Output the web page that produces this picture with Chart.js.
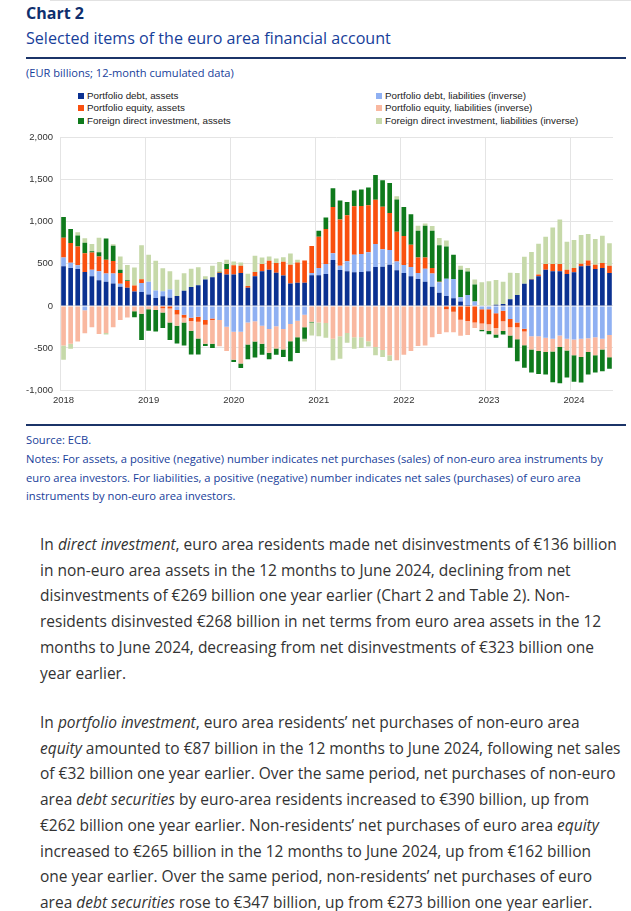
<!DOCTYPE html>
<html>
<head>
<meta charset="utf-8">
<script src="https://cdn.jsdelivr.net/npm/chart.js@4.4.0/dist/chart.umd.min.js"></script>
<style>
body { margin: 0; width: 631px; height: 911px; overflow: hidden; background: #fff; font-family: "Open Sans", sans-serif; position: relative; }
.abs { position: absolute; white-space: nowrap; }
#topline { position: absolute; left: 50px; top: 0; width: 581px; height: 1px; background: #e2e2e2; }
#h1 { left: 26px; top: 2px; font-weight: 700; font-size: 16px; color: #0f2f6e; }
#h2 { left: 26px; top: 27px; font-size: 16.1px; color: #17409a; }
.rule { position: absolute; left: 26px; width: 600px; height: 1.5px; background: #1b3468; }
#unit { left: 26px; top: 65px; font-size: 11.1px; color: #17409a; }
#legend { position: absolute; left: 78px; top: 90px; width: 500px; font-family: "Liberation Sans", Arial, sans-serif; font-size: 9.8px; color: #222; }
#legend .item { position: absolute; white-space: nowrap; }
#legend .sw { display: inline-block; width: 6px; height: 6px; margin-right: 3px; vertical-align: 0px; }
#chartBox { position: absolute; left: 0; top: 125px; }
#notes { left: 26px; top: 431px; font-size: 11.2px; line-height: 18.8px; color: #17409a; }
.para { left: 40px; font-size: 15.5px; line-height: 25.7px; color: #333; }
</style>
</head>
<body>
<div id="topline"></div>
<div class="abs" id="h1">Chart 2</div>
<div class="abs" id="h2">Selected items of the euro area financial account</div>
<div class="rule" style="top:57px"></div>
<div class="abs" id="unit">(EUR billions; 12-month cumulated data)</div>
<div id="legend"></div>
<div id="chartBox"><canvas id="myChart" width="631" height="285"></canvas></div>
<div class="rule" style="top:424px"></div>
<div class="abs" id="notes">Source: ECB.<br>Notes: For assets, a positive (negative) number indicates net purchases (sales) of non-euro area instruments by<br>euro area investors. For liabilities, a positive (negative) number indicates net sales (purchases) of euro area<br>instruments by non-euro area investors.</div>
<div class="abs para" style="top:532px">In <i>direct investment</i>, euro area residents made net disinvestments of €136 billion<br>in non-euro area assets in the 12 months to June 2024, declining from net<br>disinvestments of €269 billion one year earlier (Chart 2 and Table 2). Non-<br>residents disinvested €268 billion in net terms from euro area assets in the 12<br>months to June 2024, decreasing from net disinvestments of €323 billion one<br>year earlier.</div>
<div class="abs para" style="top:710px">In <i>portfolio investment</i>, euro area residents’ net purchases of non-euro area<br><i>equity</i> amounted to €87 billion in the 12 months to June 2024, following net sales<br>of €32 billion one year earlier. Over the same period, net purchases of non-euro<br>area <i>debt securities</i> by euro-area residents increased to €390 billion, up from<br>€262 billion one year earlier. Non-residents’ net purchases of euro area <i>equity</i><br>increased to €265 billion in the 12 months to June 2024, up from €162 billion<br>one year earlier. Over the same period, non-residents’ net purchases of euro<br>area <i>debt securities</i> rose to €347 billion, up from €273 billion one year earlier.</div>

<script>
// Jan 2018 - Jun 2024, one bar per month
const yearTicks = ['2018', '2019', '2020', '2021', '2022', '2023', '2024'];
const months = [];
for (let y = 0; y < yearTicks.length; y++) {
    for (let m = 1; m <= 12; m++) {
        if (y === 6 && m > 6) break;
        months.push(yearTicks[y] + '-' + String(m).padStart(2, '0'));
    }
}

const seriesNames = [
    'Portfolio debt, assets',
    'Portfolio debt, liabilities (inverse)',
    'Portfolio equity, assets',
    'Portfolio equity, liabilities (inverse)',
    'Foreign direct investment, assets',
    'Foreign direct investment, liabilities (inverse)'
];
const seriesColors = ['#0b3191', '#8fb0f2', '#f9500f', '#f9b8a0', '#0f7a1c', '#c6d9a9'];

const debtAssets = [
    470, 451, 439, 404, 353, 306, 286, 267, 227, 216, 172, 165,
    137, 94, 114, 98, 118, 180, 225, 245, 314, 341, 392, 372,
    372, 392, 216, 353, 412, 431, 394, 361, 267, 274, 274, 365,
    365, 380, 545, 427, 412, 400, 404, 412, 463, 466, 490, 423,
    392, 353, 321, 286, 227, 157, 118, 90, 51, 10, 5, 0,
    0, 15, 24, 80, 131, 262, 314, 353, 431, 412, 412, 380,
    400, 470, 478, 439, 451, 390
];
const debtLiab = [
    106, 63, 43, -51, 78, 106, 98, 118, 35, 0, 0, 106,
    150, 90, 59, 98, -49, -106, -141, -128, -169, -149, -169, -247,
    -306, -306, -196, -184, -235, -274, -241, -274, -216, -176, -106, 27,
    86, 118, 82, 51, 118, 208, 212, 227, 274, 208, 176, 106,
    94, 110, 71, 157, 157, 125, 204, 231, 51, 120, 47, -39,
    -39, -88, -59, -157, -196, -273, -361, -361, -380, -392, -353, -392,
    -400, -392, -384, -372, -392, -347
];
const equityAssets = [
    235, 235, 223, 223, 204, 176, 165, 149, 129, 80, 72, 47,
    0, -10, -27, -31, -53, -35, -39, -59, -55, -20, 5, 67,
    110, 86, 20, 51, 86, 106, 115, 165, 223, 243, 267, 321,
    372, 416, 549, 549, 549, 576, 572, 557, 525, 506, 439, 353,
    345, 263, 184, 133, 67, 5, -39, -71, -165, -180, -198, -170,
    -180, -176, -125, -98, -59, -32, 5, 20, 67, 86, 86, 51,
    51, 31, 63, 51, 59, 87
];
const equityLiab = [
    -470, -451, -423, -274, -255, -333, -321, -255, -169, -137, -63, -94,
    -39, -39, -51, -165, -133, -55, -114, -200, -227, -282, -310, -290,
    -333, -380, -263, -239, -216, -282, -265, -243, -204, -196, -149, -188,
    -196, -204, -392, -361, -321, -372, -372, -419, -490, -523, -588, -647,
    -580, -537, -478, -470, -372, -333, -274, -243, -190, -167, -65, -75,
    -80, -76, -114, -98, -142, -162, -157, -176, -169, -149, -137, -137,
    -188, -216, -165, -216, -125, -265
];
const fdiAssets = [
    247, 165, 133, 125, 16, 51, 251, 180, 39, 8, -71, -310,
    -255, -255, -185, -210, -212, -274, -284, -190, -27, -51, 10, 59,
    -27, -51, -176, -192, -129, -78, -75, -90, -239, -188, -137, -8,
    71, 137, 223, 227, 157, 188, 196, 212, 294, 314, 357, 384,
    345, 365, 318, 376, 443, 435, 384, 286, 329, 278, 203, -18,
    -37, -39, -43, -145, -262, -269, -274, -274, -267, -368, -431, -321,
    -314, -302, -267, -204, -259, -136
];
const fdiLiab = [
    -169, -59, 39, 51, 86, 172, -20, 20, 157, 182, 214, 404,
    320, 353, 274, 216, 192, 208, 218, 214, 39, 137, 115, 51,
    47, 39, 145, 192, 78, 51, 55, 51, 133, 31, -31, -157,
    -165, -176, -255, -267, -118, -137, -129, -63, -98, -84, -67, 39,
    0, 0, 59, 27, 55, 86, 71, 0, 47, 43, 59, 280,
    294, 292, 263, 314, 261, 323, 321, 365, 325, 435, 529, 333,
    333, 341, 314, 306, 325, 268
];
const seriesData = [debtAssets, debtLiab, equityAssets, equityLiab, fdiAssets, fdiLiab];

// legend: 2 columns, 3 rows (left = assets, right = liabilities)
const legend = document.getElementById('legend');
seriesNames.forEach((name, k) => {
    const el = document.createElement('div');
    el.className = 'item';
    el.style.left = (k % 2 === 0 ? 0 : 298) + 'px';
    el.style.top = (Math.floor(k / 2) * 12.3) + 'px';
    el.innerHTML = '<span class="sw" style="background:' + seriesColors[k] + '"></span>' + name;
    legend.appendChild(el);
});

const ctx = document.getElementById('myChart').getContext('2d');
const axisFont = { family: 'Liberation Sans', size: 9.5 };

new Chart(ctx, {
    type: 'bar',
    data: {
        labels: months,
        datasets: seriesNames.map((name, k) => ({
            label: name,
            data: seriesData[k],
            backgroundColor: seriesColors[k],
            barPercentage: 0.66,
            categoryPercentage: 1
        }))
    },
    options: {
        responsive: false,
        animation: false,
        layout: { padding: { left: 0, right: 18, top: 10, bottom: 0 } },
        plugins: {
            legend: { display: false },
            tooltip: { enabled: false }
        },
        scales: {
            x: {
                stacked: true,
                border: { display: false },
                grid: {
                    offset: true,
                    drawTicks: false,
                    color: c => (c.index !== undefined && c.index % 12 === 0) ? '#e4e4e4' : 'rgba(0,0,0,0)'
                },
                ticks: {
                    autoSkip: false,
                    maxRotation: 0,
                    padding: 5,
                    font: axisFont,
                    color: '#333',
                    callback: (v, i) => i % 12 === 0 ? yearTicks[i / 12] : ''
                },
                afterFit: a => { a.height = 20; }
            },
            y: {
                stacked: true,
                min: -1000,
                max: 2000,
                border: { display: false },
                grid: { drawTicks: false, color: '#e4e4e4' },
                ticks: {
                    stepSize: 500,
                    padding: 7,
                    font: axisFont,
                    color: '#333',
                    callback: v => v.toLocaleString('en-US')
                },
                afterFit: a => { a.width = 60; }
            }
        }
    }
});
</script>
</body>
</html>
